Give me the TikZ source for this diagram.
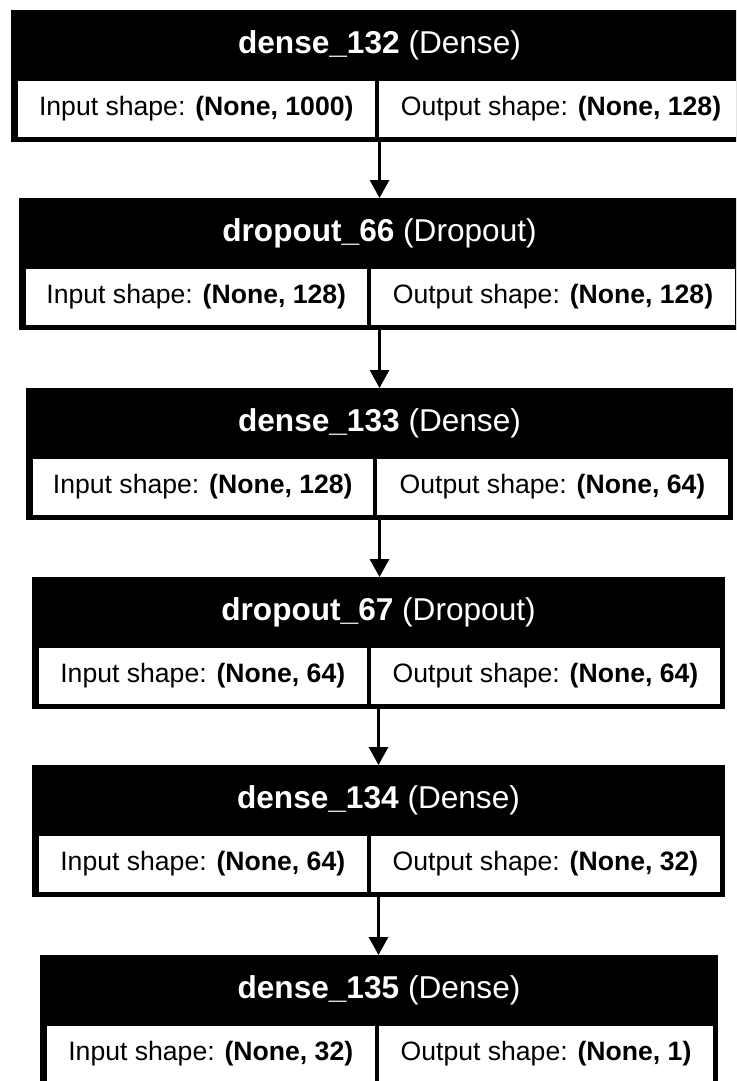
\documentclass[tikz,border=0pt]{standalone}
\usepackage{fontspec}
\setmainfont{Liberation Sans}
\usetikzlibrary{arrows.meta}
\tikzset{
  outerbox/.style={fill=black, draw=none, inner sep=0pt, minimum height=132pt},
  cellbox/.style={fill=white, draw=none, inner sep=0pt, minimum height=56pt,
                  font=\fontsize{26.6}{30}\selectfont},
  headtext/.style={text=white, inner sep=0pt, font=\fontsize{31.6}{36}\selectfont},
  arr/.style={line width=3pt, -{Triangle[width=19pt,length=18pt]}}
}
% #1 name, #2 left, #3 top, #4 right, #5 divider x, #6 layer name, #7 type, #8 input, #9 output
\newcommand\layerbox[9]{%
  \pgfmathsetmacro\bw{#4-#2}%
  \pgfmathsetmacro\bx{(#4+#2)/2}%
  \node[outerbox, minimum width=\bw pt, anchor=north] (#1) at (\bx pt,-#3 pt) {};
  \node[headtext] (#1h) at (\bx pt,-#3 pt-35.5pt) {\textbf{#6} (#7)};
  \pgfmathsetmacro\lw{#5-2-#2-6.5}%
  \pgfmathsetmacro\lx{(#5-2+#2+6.5)/2}%
  \node[cellbox, minimum width=\lw pt] (#1i) at (\lx pt,-#3 pt-99pt) {Input shape: \textbf{#8}};
  \pgfmathsetmacro\rw{#4-5-#5-2}%
  \pgfmathsetmacro\rx{(#4-5+#5+2)/2}%
  \node[cellbox, minimum width=\rw pt] (#1o) at (\rx pt,-#3 pt-99pt) {Output shape: \textbf{#9}};
}
\begin{document}
\begin{tikzpicture}
\clip (0,0) rectangle (736pt,-1081pt);
\fill[white] (0,0) rectangle (736pt,-1081pt);
\layerbox{l1}{11}{10}{748}{377}{dense\_132}{Dense}{(None, 1000)}{(None, 128)}
\layerbox{l2}{19}{198}{740}{369}{dropout\_66}{Dropout}{(None, 128)}{(None, 128)}
\layerbox{l3}{26}{388}{733}{375}{dense\_133}{Dense}{(None, 128)}{(None, 64)}
\layerbox{l4}{32}{577}{725}{369}{dropout\_67}{Dropout}{(None, 64)}{(None, 64)}
\layerbox{l5}{32}{765}{725}{369}{dense\_134}{Dense}{(None, 64)}{(None, 32)}
\layerbox{l6}{40}{955}{718}{377}{dense\_135}{Dense}{(None, 32)}{(None, 1)}
\draw[arr] (l1.south) -- (l1.south |- l2.north);
\draw[arr] (l2.south) -- (l2.south |- l3.north);
\draw[arr] (l3.south) -- (l3.south |- l4.north);
\draw[arr] (l4.south) -- (l4.south |- l5.north);
\draw[arr] (l5.south) -- (l5.south |- l6.north);
\end{tikzpicture}
\end{document}
